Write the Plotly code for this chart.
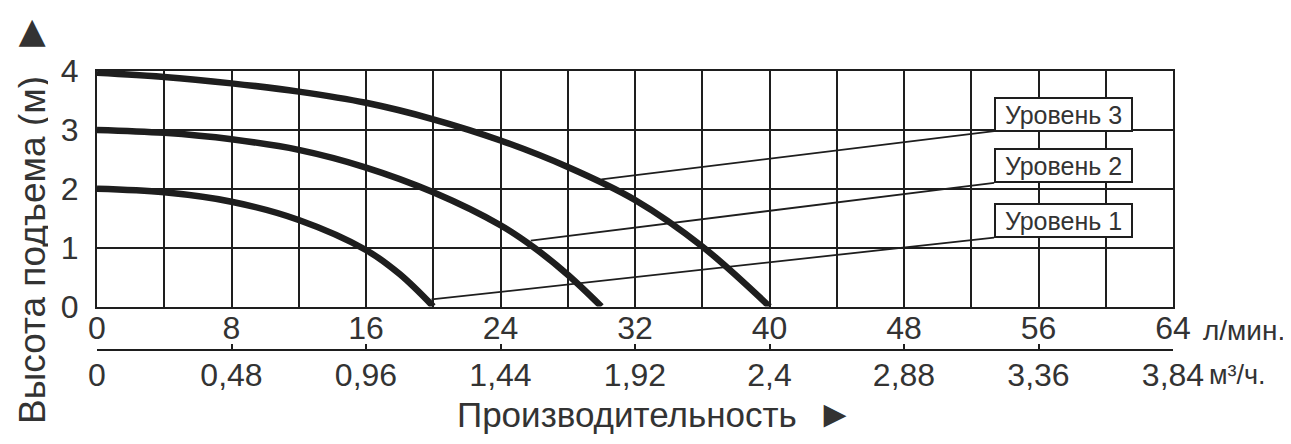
import plotly.graph_objects as go

# ---- data ----
flow_l1 = [0, 4, 8, 12, 16, 18, 20]
head_l1 = [2.0, 1.94, 1.78, 1.47, 0.96, 0.55, 0.0]

flow_l2 = [0, 4, 8, 12, 16, 20, 24, 26, 28, 30]
head_l2 = [3.0, 2.95, 2.84, 2.66, 2.36, 1.94, 1.38, 1.0, 0.54, 0.0]

flow_l3 = [0, 4, 8, 12, 16, 20, 24, 28, 32, 36, 40]
head_l3 = [3.97, 3.9, 3.79, 3.65, 3.46, 3.18, 2.82, 2.37, 1.81, 1.02, 0.0]

level_names = ["Уровень 1", "Уровень 2", "Уровень 3"]
# leader line: start on curve -> end at label box corner
leader_x = [[19.9, 53.36], [25.8, 53.36], [30.0, 53.36]]
leader_y = [[0.12, 1.17], [1.12, 2.1], [2.16, 2.98]]
label_x = [57.5, 57.5, 57.5]
label_y = [1.46, 2.39, 3.26]

lmin_ticks = [0, 8, 16, 24, 32, 40, 48, 56, 64]
lmin_labels = ["0", "8", "16", "24", "32", "40", "48", "56", "64"]
m3h_ticks = [0, 0.48, 0.96, 1.44, 1.92, 2.4, 2.88, 3.36, 3.84]
m3h_labels = ["0", "0,48", "0,96", "1,44", "1,92", "2,4", "2,88", "3,36", "3,84"]
head_ticks = [0, 1, 2, 3, 4]

x_title = "Производительность\u00a0 <span style='font-size:38px'>►</span>"
y_title = "Высота подъема (м)\u00a0 <span style='font-size:45px'>►</span>"
unit_lmin = "л/мин."
unit_m3h = "м³/ч."

# ---- styling ----
INK = "#1e1e1e"
TXT = "#333333"
FONT = "Liberation Sans, Arial, sans-serif"

OFF = 8  # page body margin of the browser
W, H = 1291 - OFF, 444 - OFF
PLOT_L, PLOT_R, PLOT_T, PLOT_B = 97, 1173, 71, 306.5   # in reference pixels
ML = PLOT_L - OFF
MT = PLOT_T - OFF
MR = W - (PLOT_R - OFF)
MB = 20
paper_w = W - ML - MR
paper_h = H - MT - MB


def px_x(p):
    return (p - OFF - ML) / paper_w


def px_y(p):
    return (H - MB - (p - OFF)) / paper_h


ydom0 = px_y(PLOT_B)
pos2 = px_y(350)

fig = go.Figure()

for lx, ly in zip(leader_x, leader_y):
    fig.add_trace(go.Scatter(x=lx, y=ly, mode="lines",
                             line=dict(color=INK, width=1.8),
                             showlegend=False, hoverinfo="skip"))

for fx, hy in [(flow_l1, head_l1), (flow_l2, head_l2), (flow_l3, head_l3)]:
    fig.add_trace(go.Scatter(x=fx, y=hy, mode="lines",
                             line=dict(color=INK, width=6.5, shape="spline", smoothing=1.0),
                             showlegend=False, hoverinfo="skip", cliponaxis=False))

# dummy trace to activate the secondary (m3/h) axis
fig.add_trace(go.Scatter(x=[m3h_ticks[0], m3h_ticks[-1]], y=[None, None],
                         xaxis="x2", yaxis="y", showlegend=False, hoverinfo="skip"))

fig.update_layout(
    width=W, height=H,
    margin=dict(l=ML, r=MR, t=MT, b=MB),
    paper_bgcolor="white", plot_bgcolor="white",
    font=dict(family=FONT, color=TXT, size=32),
    xaxis=dict(range=[0, 64], tickvals=lmin_ticks, ticktext=lmin_labels,
               showgrid=True, gridcolor=INK, gridwidth=2,
               minor=dict(dtick=4, tick0=0, showgrid=True, gridcolor=INK, gridwidth=2),
               showline=True, mirror=True, linecolor=INK, linewidth=2,
               ticks="", zeroline=False, anchor="y", automargin=False,
               ticklabelstandoff=-8,
               tickfont=dict(size=32, color=TXT, family=FONT)),
    xaxis2=dict(range=[0, 3.84], tickvals=m3h_ticks, ticktext=m3h_labels,
                overlaying="x", anchor="free", position=pos2, side="bottom",
                showgrid=False, zeroline=False, automargin=False,
                showline=True, linecolor=INK, linewidth=2,
                ticks="inside", ticklen=5, tickwidth=2, tickcolor=INK,
                ticklabelstandoff=-3,
                tickfont=dict(size=32, color=TXT, family=FONT)),
    yaxis=dict(range=[0, 4], tickvals=head_ticks, domain=[ydom0, 1],
               showgrid=True, gridcolor=INK, gridwidth=2,
               showline=True, mirror=True, linecolor=INK, linewidth=2,
               ticks="", zeroline=False, ticklabelstandoff=10, automargin=False,
               tickfont=dict(size=32, color=TXT, family=FONT)),
)

annotations = []
for name, lx, ly in zip(level_names, label_x, label_y):
    annotations.append(dict(x=lx, y=ly, xref="x", yref="y", text=name,
                            showarrow=False, font=dict(size=25, color=TXT, family=FONT),
                            bgcolor="white", bordercolor=INK, borderwidth=2,
                            width=133, height=29, align="center"))

annotations.append(dict(x=px_x(655), y=px_y(414), xref="paper", yref="paper",
                        text=x_title, showarrow=False,
                        font=dict(size=35, color=TXT, family=FONT),
                        xanchor="center", yanchor="middle"))
annotations.append(dict(x=px_x(29), y=px_y(218), xref="paper", yref="paper",
                        text=y_title, showarrow=False, textangle=-90,
                        height=38,
                        font=dict(size=37, color=TXT, family=FONT),
                        xanchor="center", yanchor="middle"))
annotations.append(dict(x=px_x(1287), y=px_y(330), xref="paper", yref="paper",
                        text=unit_lmin, showarrow=False,
                        font=dict(size=28, color=TXT, family=FONT),
                        xanchor="right", yanchor="middle"))
annotations.append(dict(x=px_x(1207), y=px_y(375), xref="paper", yref="paper",
                        text=unit_m3h, showarrow=False,
                        font=dict(size=27, color=TXT, family=FONT),
                        xanchor="left", yanchor="middle"))
fig.update_layout(annotations=annotations)

fig.write_html("out.html")
